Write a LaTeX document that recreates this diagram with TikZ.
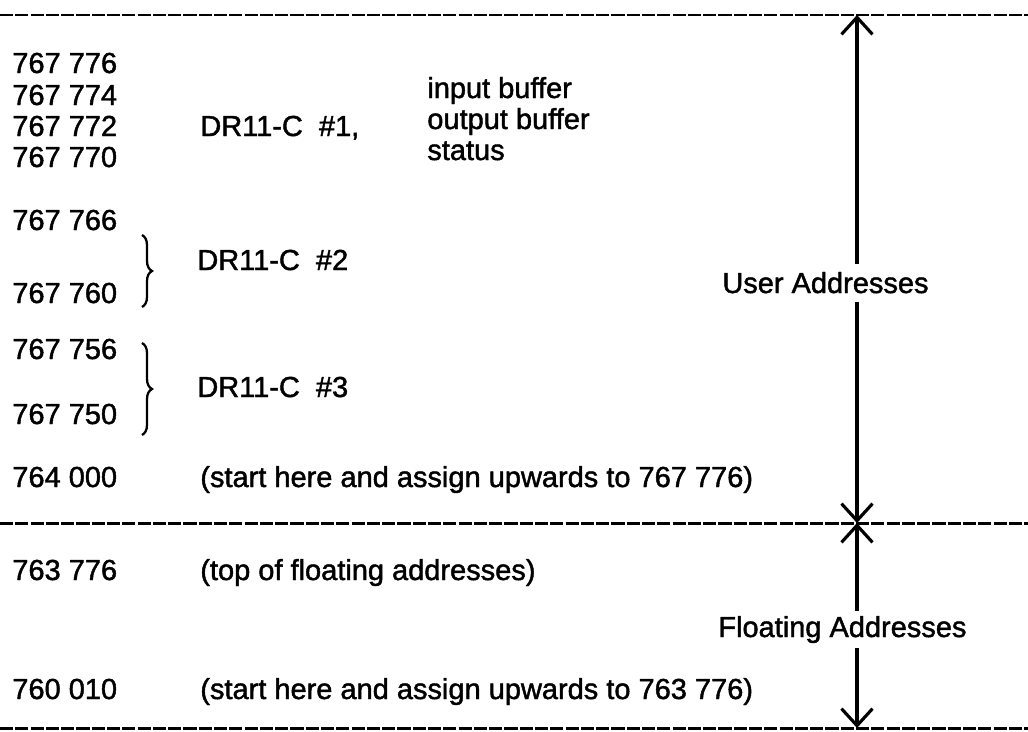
\documentclass[tikz,border=0pt]{standalone}
\usepackage{fontspec}
\setmainfont{Liberation Sans}[FakeBold=1.5]
\usetikzlibrary{arrows.meta,positioning,decorations.pathreplacing}

\begin{document}
\begin{tikzpicture}[
		x=0.02cm, y=-0.02cm,
		font=\fontsize{16.5}{20}\selectfont,
		every node/.style={inner sep=0pt},
		addr/.style={anchor=base west},
		lbl/.style={anchor=base west, inner ysep=0.16cm},
		sepline/.style={line width=1.7pt, dash pattern=on 7.5pt off 1.2pt},
		arr/.style={line width=1.8pt, -{Straight Barb[length=0.34cm, width=0.62cm]}},
		brc/.style={decorate, decoration={brace, amplitude=0.2cm, aspect=0.5}, line width=1.3pt},
		]

		\useasboundingbox (0,0) rectangle (1028,731);

		\draw[sepline] (0,15) -- (1028,15);
		\draw[sepline] (0,523) -- (1028,523);
		\draw[sepline] (0,728) -- (1028,728);

		\node[addr] (a776) at (12,73)  {767 776};
		\node[addr] (a774) at (12,105) {767 774};
		\node[addr] (a772) at (12,136) {767 772};
		\node[addr] (a770) at (12,167) {767 770};
		\node[addr] (dr1)  at (200,136) {DR11-C~~\#1,};
		\node[addr] (inbuf)  at (427,98)  {input buffer};
		\node[addr] (outbuf) at (427,129) {output buffer};
		\node[addr] (status) at (427,160) {status};

		\node[addr] (a766) at (12,230) {767 766};
		\node[addr] (a760) at (12,303) {767 760};
		\node[addr] (dr2)  at (197,270) {DR11-C~~\#2};

		\node[addr] (a756) at (12,359) {767 756};
		\node[addr] (a750) at (12,424) {767 750};
		\node[addr] (dr3)  at (197,397) {DR11-C~~\#3};

		\node[addr] (a000)   at (12,487)  {764 000};
		\node[addr] (start1) at (200,487) {(start here and assign upwards to 767 776)};

		\node[addr] (a3776) at (12,580)  {763 776};
		\node[addr] (topfl) at (200,580) {(top of floating addresses)};

		\node[addr] (a010)   at (12,699)  {760 010};
		\node[addr] (start2) at (200,699) {(start here and assign upwards to 763 776)};

		\node[lbl] (user)  at (722,293) {User Addresses};
		\node[lbl, inner ysep=0.1cm] (float) at (718,637) {Floating Addresses};

		\coordinate (b1t) at (142,235);
		\coordinate (b1b) at (142,307);
		\coordinate (b2t) at (142,343);
		\coordinate (b2b) at (142,435);
		\draw[brc] (b1t) -- (b1b);
		\draw[brc] (b2t) -- (b2b);

		\coordinate (utop) at (857,15);
		\coordinate (umid) at (857,523);
		\coordinate (fbot) at (857,728);
		\draw[arr] (user.north -| utop) -- (utop);
		\draw[arr] (user.south -| utop) -- (umid);
		\draw[arr] (float.north -| umid) -- (umid);
		\draw[arr] (float.south -| umid) -- (fbot);

	\end{tikzpicture}
\end{document}
